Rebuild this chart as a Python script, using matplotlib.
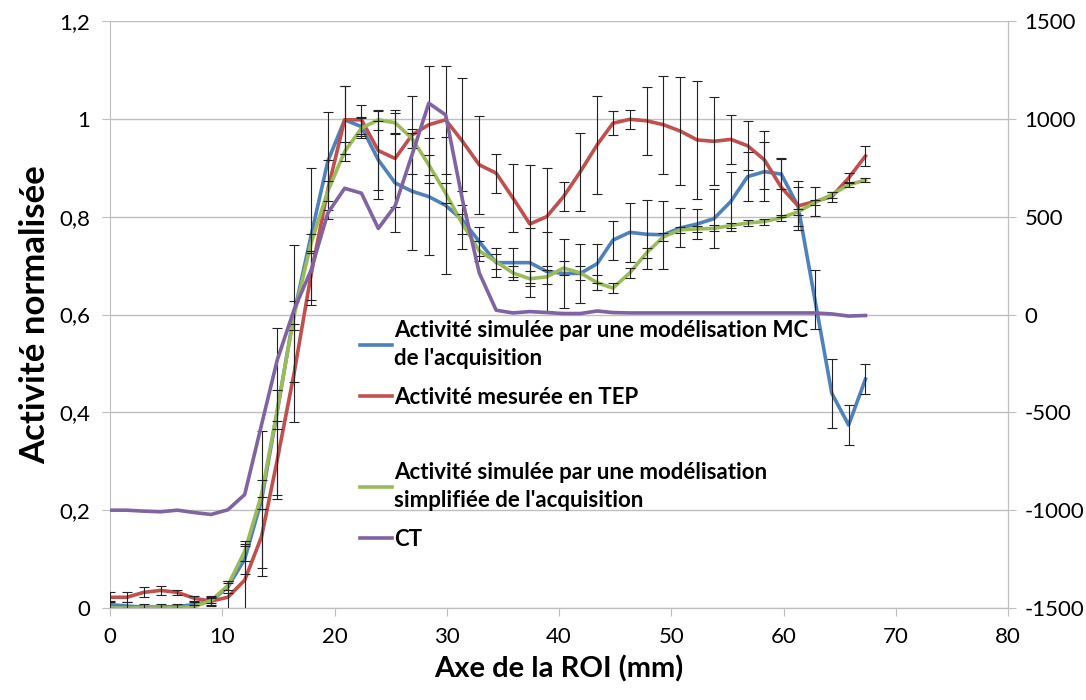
import numpy as np
import matplotlib.pyplot as plt
from matplotlib.lines import Line2D

# Profil d'activité le long de la ROI (mm)
x = [0.0, 1.5, 3.0, 4.5, 6.0, 7.5, 9.0, 10.5, 12.0, 13.5,
     14.9, 16.4, 17.9, 19.4, 20.9, 22.4, 23.9, 25.4, 26.9, 28.4,
     29.9, 31.4, 32.9, 34.4, 35.9, 37.4, 38.9, 40.4, 41.9, 43.4,
     44.8, 46.3, 47.8, 49.3, 50.8, 52.3, 53.8, 55.3, 56.8, 58.3,
     59.8, 61.3, 62.8, 64.3, 65.8, 67.3]

mc = [0.007, 0.004, 0.002, 0.002, 0.003, 0.007, 0.014, 0.043, 0.100, 0.221,
      0.402, 0.603, 0.760, 0.913, 0.998, 0.984, 0.916, 0.869, 0.852, 0.841,
      0.823, 0.793, 0.749, 0.706, 0.706, 0.706, 0.688, 0.684, 0.684, 0.704,
      0.752, 0.768, 0.764, 0.763, 0.777, 0.785, 0.796, 0.831, 0.882, 0.892,
      0.887, 0.821, 0.630, 0.439, 0.374, 0.468]
mc_err = [0.008, 0.008, 0.006, 0.006, 0.006, 0.006, 0.008, 0.012, 0.03, 0.14,
          0.17, 0.14, 0.14, 0.10, 0.07, 0.02, 0.08, 0.10, 0.12, 0.12,
          0.14, 0.06, 0.03, 0.03, 0.03, 0.07, 0.08, 0.07, 0.06, 0.04,
          0.04, 0.06, 0.07, 0.07, 0.04, 0.03, 0.06, 0.06, 0.05, 0.06,
          0.03, 0.04, 0.06, 0.07, 0.04, 0.03]

tep = [0.022, 0.022, 0.032, 0.036, 0.032, 0.020, 0.014, 0.022, 0.057, 0.146,
       0.303, 0.480, 0.680, 0.855, 0.998, 0.998, 0.935, 0.919, 0.967, 0.988,
       0.998, 0.954, 0.906, 0.889, 0.838, 0.785, 0.800, 0.841, 0.892, 0.947,
       0.991, 0.999, 0.996, 0.988, 0.975, 0.957, 0.954, 0.958, 0.945, 0.916,
       0.860, 0.822, 0.831, 0.841, 0.879, 0.924]
tep_err = [0.01, 0.01, 0.01, 0.01, 0.005, 0.005, 0.01, 0.03, 0.07, 0.08,
           0.08, 0.10, 0.05, 0.06, 0.07, 0.03, 0.08, 0.10, 0.08, 0.12,
           0.11, 0.13, 0.10, 0.04, 0.07, 0.12, 0.10, 0.03, 0.08, 0.10,
           0.025, 0.02, 0.07, 0.10, 0.11, 0.12, 0.09, 0.05, 0.05, 0.06,
           0.06, 0.05, 0.03, 0.01, 0.01, 0.02]

simp = [0.0, 0.0, 0.0, 0.0, 0.0, 0.003, 0.015, 0.046, 0.116, 0.232,
        0.405, 0.598, 0.745, 0.852, 0.933, 0.981, 0.998, 0.992, 0.960, 0.906,
        0.848, 0.785, 0.730, 0.708, 0.685, 0.673, 0.677, 0.695, 0.685, 0.665,
        0.654, 0.685, 0.726, 0.759, 0.773, 0.775, 0.776, 0.782, 0.787, 0.790,
        0.798, 0.810, 0.829, 0.845, 0.865, 0.875]
simp_err = [0.0, 0.0, 0.0, 0.0, 0.0, 0.003, 0.005, 0.01, 0.02, 0.03,
            0.04, 0.03, 0.02, 0.02, 0.02, 0.02, 0.02, 0.02, 0.02, 0.02,
            0.02, 0.02, 0.02, 0.015, 0.015, 0.015, 0.015, 0.015, 0.015, 0.015,
            0.01, 0.01, 0.01, 0.008, 0.006, 0.006, 0.006, 0.006, 0.006, 0.006,
            0.006, 0.006, 0.006, 0.006, 0.005, 0.005]

ct = [-1000, -1000, -1005, -1008, -1000, -1012, -1022, -998, -920, -563,
      -232, 25, 225, 518, 645, 620, 440, 555, 815, 1080,
      1020, 585, 212, 22, 8, 15, 10, 5, 5, 18,
      10, 8, 8, 8, 8, 8, 8, 8, 8, 8,
      8, 8, 8, 3, -8, -5]

left_ticks = [0, 0.2, 0.4, 0.6, 0.8, 1.0, 1.2]
left_labels = ['0', '0,2', '0,4', '0,6', '0,8', '1', '1,2']
right_ticks = [-1500, -1000, -500, 0, 500, 1000, 1500]

c_blue = '#4F81BD'
c_red = '#C0504D'
c_green = '#9BBB59'
c_purple = '#8064A2'
c_axis = '#BFBFBF'

plt.rcParams['font.family'] = ['Lato', 'DejaVu Sans']
plt.rcParams['axes.unicode_minus'] = False

fig = plt.figure(figsize=(10.86, 7.0), dpi=100)
ax = fig.add_axes([0.1013, 0.1314, 0.8269, 0.8386])
ax2 = ax.twinx()

l1, = ax.plot(x, mc, color=c_blue, lw=2.6, zorder=3)
l2, = ax.plot(x, tep, color=c_red, lw=2.6, zorder=3)
l3, = ax.plot(x, simp, color=c_green, lw=2.6, zorder=3)
for y, e in [(mc, mc_err), (tep, tep_err), (simp, simp_err)]:
    ax.errorbar(x, y, yerr=e, fmt='none', ecolor='#222222', elinewidth=0.8,
                capsize=3.5, capthick=0.8, zorder=4)
l4, = ax2.plot(x, ct, color=c_purple, lw=2.6)

ax.set_xlim(0, 80)
ax.set_ylim(0, 1.2)
ax2.set_ylim(-1500, 1500)
ax.set_xticks(range(0, 81, 10))
ax.set_yticks(left_ticks)
ax.set_yticklabels(left_labels)
ax2.set_yticks(right_ticks)

ax.yaxis.grid(True, color=c_axis, lw=1)
ax.set_axisbelow(True)

for a in (ax, ax2):
    a.spines['top'].set_visible(False)
    for s in ('left', 'right', 'bottom'):
        a.spines[s].set_color(c_axis)
ax2.spines['left'].set_visible(False)
ax.tick_params(direction='out', length=6, color=c_axis, labelsize=16, pad=8)
ax2.tick_params(direction='out', length=6, color=c_axis, labelsize=16, pad=6)

ax.set_xlabel('Axe de la ROI (mm)', fontsize=21, fontweight='bold', labelpad=6)
ax.set_ylabel('Activité normalisée', fontsize=25, fontweight='bold', labelpad=6)

blank = Line2D([], [], color='none')
leg = ax2.legend([l1, l2, blank, l3, l4],
                 ["Activité simulée par une modélisation MC\nde l'acquisition",
                  'Activité mesurée en TEP', ' ',
                  "Activité simulée par une modélisation\nsimplifiée de l'acquisition",
                  'CT'],
                 loc='upper left', bbox_to_anchor=(0.256, 0.525), frameon=False,
                 prop={'weight': 'bold', 'size': 16}, handlelength=1.45,
                 handletextpad=0.1, labelspacing=0.82)
for t in leg.get_texts():
    t.set_linespacing(1.4)
leg.get_texts()[2].set_fontsize(8.5)

plt.savefig('out.png', dpi=100)
